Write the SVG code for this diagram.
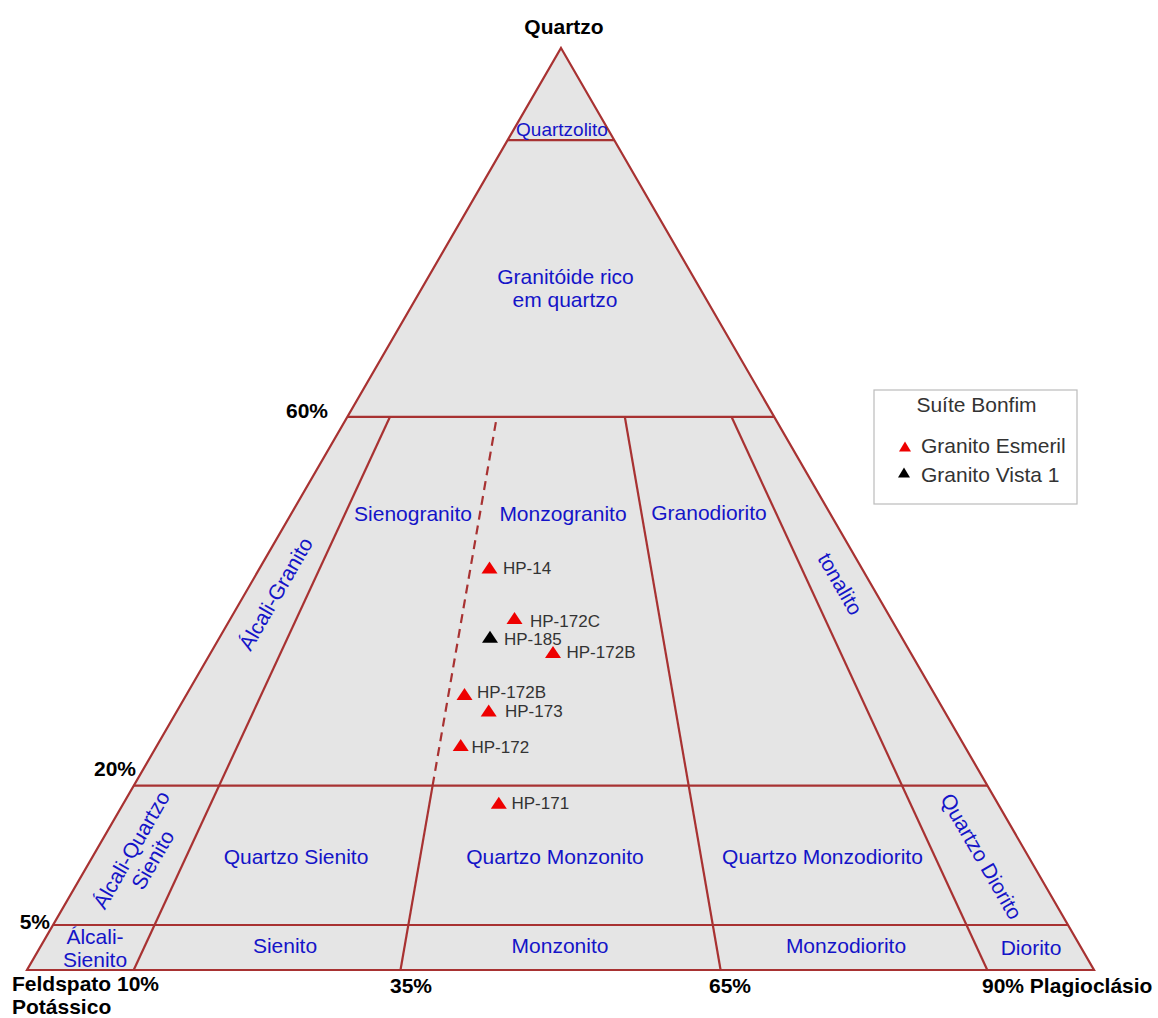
<svg xmlns="http://www.w3.org/2000/svg" width="1158" height="1018" viewBox="0 0 1158 1018">
<style>
.ln{stroke:#a83232;stroke-width:2.2;fill:none}
.dash{stroke-dasharray:9,6}
.lab{font-family:"Liberation Sans",Arial,sans-serif;font-size:21px;fill:#1414c8;text-anchor:middle}
.ax{font-family:"Liberation Sans",Arial,sans-serif;font-size:21px;font-weight:bold;fill:#000}
.pt{font-family:"Liberation Sans",Arial,sans-serif;font-size:17px;fill:#333}
.lg{font-family:"Liberation Sans",Arial,sans-serif;font-size:21px;fill:#333}
.red{fill:#ee0000}
.blk{fill:#000}
</style>
<defs>
<path id="tri" d="M0,-6 L8,6 L-8,6 Z"/>
<path id="tris" d="M0,-5 L6,5 L-6,5 Z"/>
</defs>
<rect width="1158" height="1018" fill="#fff"/>
<g id="triangle">
<polygon points="561,48 1094,970 27,970" fill="#e5e5e5" stroke="#a83232" stroke-width="2.2"/>
</g>
<g id="connectors">
<line class="ln" x1="507.6" y1="140.2" x2="614.3" y2="140.2"/>
<line class="ln" x1="347.4" y1="416.8" x2="774.2" y2="416.8"/>
<line class="ln" x1="133.8" y1="785.6" x2="987.4" y2="785.6"/>
<line class="ln" x1="53.1" y1="925" x2="1068" y2="925"/>
<line class="ln" x1="133.7" y1="970" x2="390" y2="416.8"/>
<line class="ln" x1="400.5" y1="970" x2="432.6" y2="785.6"/>
<line class="ln dash" x1="432.6" y1="785.6" x2="496.8" y2="416.8"/>
<line class="ln" x1="720.6" y1="970" x2="624.8" y2="416.8"/>
<line class="ln" x1="987.3" y1="970" x2="731.5" y2="416.8"/>
</g>
<g id="axis-labels">
<text class="ax" x="564" y="34" text-anchor="middle">Quartzo</text>
<text class="ax" x="328" y="418" text-anchor="end">60%</text>
<text class="ax" x="136" y="776" text-anchor="end">20%</text>
<text class="ax" x="50" y="929" text-anchor="end">5%</text>
<text class="ax" x="12" y="991">Feldspato 10%</text>
<text class="ax" x="12" y="1014">Potássico</text>
<text class="ax" x="411" y="993" text-anchor="middle">35%</text>
<text class="ax" x="730" y="993" text-anchor="middle">65%</text>
<text class="ax" x="982" y="993">90% Plagioclásio</text>
</g>
<g id="fields">
<text class="lab" x="562" y="136" style="font-size:19px">Quartzolito</text>
<text class="lab" x="565.5" y="284">Granitóide rico</text>
<text class="lab" x="565" y="307">em quartzo</text>
<text class="lab" x="413" y="521">Sienogranito</text>
<text class="lab" x="563" y="521">Monzogranito</text>
<text class="lab" x="709" y="520">Granodiorito</text>
<text class="lab" transform="translate(282,597.5) rotate(-60)">Álcali-Granito</text>
<text class="lab" transform="translate(834,587.5) rotate(60)">tonalito</text>
<text class="lab" transform="translate(137.6,853.5) rotate(-60)">Álcali-Quartzo</text>
<text class="lab" transform="translate(159,863.5) rotate(-60)">Sienito</text>
<text class="lab" transform="translate(975,860) rotate(60)">Quartzo Diorito</text>
<text class="lab" x="296" y="864">Quartzo Sienito</text>
<text class="lab" x="555" y="864">Quartzo Monzonito</text>
<text class="lab" x="822.5" y="864">Quartzo Monzodiorito</text>
<text class="lab" x="95" y="944">Álcali-</text>
<text class="lab" x="95" y="967">Sienito</text>
<text class="lab" x="285" y="953">Sienito</text>
<text class="lab" x="560" y="953">Monzonito</text>
<text class="lab" x="846" y="953">Monzodiorito</text>
<text class="lab" x="1031" y="955">Diorito</text>
</g>
<g id="points">
<use href="#tri" class="red" x="489.5" y="567.5"/><text class="pt" x="503" y="574">HP-14</text>
<use href="#tri" class="red" x="514.5" y="618"/><text class="pt" x="530" y="627">HP-172C</text>
<use href="#tri" class="blk" x="490" y="636.7"/><text class="pt" x="504" y="645">HP-185</text>
<use href="#tri" class="red" x="553" y="652"/><text class="pt" x="566.5" y="658">HP-172B</text>
<use href="#tri" class="red" x="464.5" y="694"/><text class="pt" x="477" y="698">HP-172B</text>
<use href="#tri" class="red" x="488.7" y="710.5"/><text class="pt" x="505" y="716.5">HP-173</text>
<use href="#tri" class="red" x="460.7" y="745"/><text class="pt" x="471.5" y="752.5">HP-172</text>
<use href="#tri" class="red" x="498.8" y="802.7"/><text class="pt" x="511.5" y="809">HP-171</text>
</g>
<g id="legend">
<rect x="874" y="390" width="203" height="114" fill="#fff" stroke="#bbb" stroke-width="1.2"/>
<text class="lg" x="976.5" y="412" text-anchor="middle">Suíte Bonfim</text>
<use href="#tris" class="red" x="905" y="446.5"/>
<text class="lg" x="921" y="453">Granito Esmeril</text>
<use href="#tris" class="blk" x="904" y="472.5"/>
<text class="lg" x="921" y="482">Granito Vista 1</text>
</g>
</svg>
